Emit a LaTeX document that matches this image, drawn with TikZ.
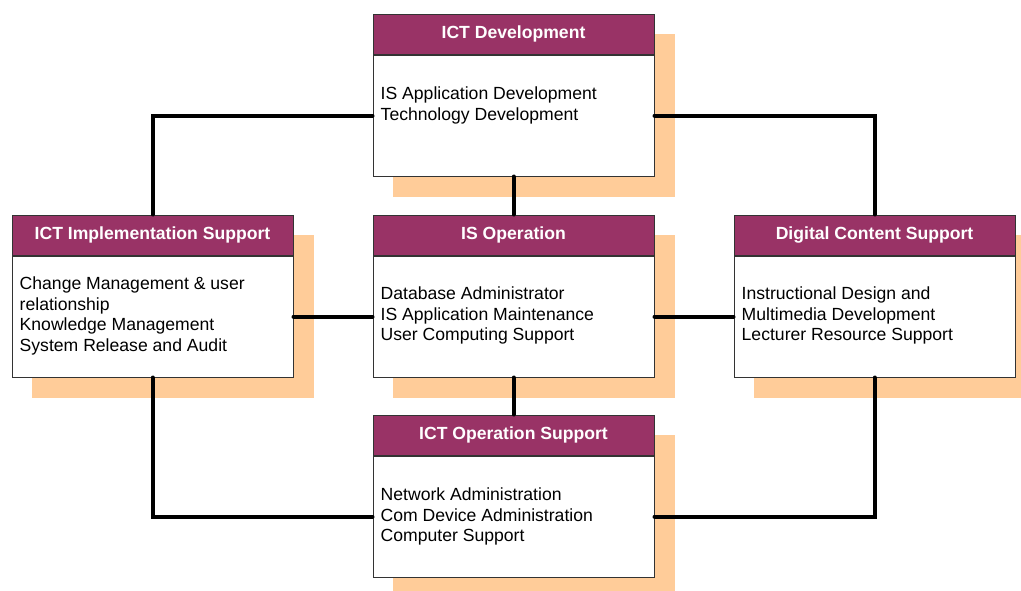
\documentclass[tikz,border=0pt]{standalone}
\usepackage{fontspec}
\setmainfont{Liberation Sans}
\usetikzlibrary{backgrounds}
\definecolor{hdr}{HTML}{993366}
\definecolor{shd}{HTML}{FFCC99}
\definecolor{bord}{HTML}{333333}
\begin{document}
\begin{tikzpicture}[x=1pt,y=-1pt,
 hdrbox/.style={draw=bord, line width=1pt, fill=hdr, minimum width=281pt, minimum height=40pt, inner sep=0pt, text=white, font=\bfseries\fontsize{17.6}{20.7}\selectfont, anchor=north west},
 bodybox/.style={draw=bord, line width=1pt, fill=white, minimum width=281pt, minimum height=121pt, inner sep=0pt, anchor=north},
 bodytext/.style={font=\fontsize{17.6}{20.7}\selectfont, align=left, anchor=base west, inner sep=0pt, text=black},
 conn/.style={line width=4pt, line cap=round},
 ]
\useasboundingbox (0,0) rectangle (1021,590);
\node[hdrbox] (hdev) at (372.5,13.5) {ICT Development};
\node[bodybox] (bdev) at (hdev.south) {};
\node[hdrbox] (himp) at (11.5,214.5) {ICT Implementation Support};
\node[bodybox] (bimp) at (himp.south) {};
\node[hdrbox] (hiso) at (372.5,214.5) {IS Operation};
\node[bodybox] (biso) at (hiso.south) {};
\node[hdrbox] (hdig) at (733.5,214.5) {Digital Content Support};
\node[bodybox] (bdig) at (hdig.south) {};
\node[hdrbox] (hops) at (372.5,414.5) {ICT Operation Support};
\node[bodybox] (bops) at (hops.south) {};

% base anchor = baseline of the last line
\node[bodytext] (tdev) at ([shift={(8,65.7)}]hdev.south west) {IS Application Development\\Technology Development};
\node[bodytext] (timp) at ([shift={(8,96.1)}]himp.south west) {Change Management \& user\\relationship\\Knowledge Management\\System Release and Audit};
\node[bodytext] (tiso) at ([shift={(8,85.4)}]hiso.south west) {Database Administrator\\IS Application Maintenance\\User Computing Support};
\node[bodytext] (tdig) at ([shift={(8,85.4)}]hdig.south west) {Instructional Design and\\Multimedia Development\\Lecturer Resource Support};
\node[bodytext] (tops) at ([shift={(8,86.4)}]hops.south west) {Network Administration\\Com Device Administration\\Computer Support};

\begin{pgfonlayer}{background}
\foreach \n in {dev,imp,iso,dig,ops}
  \fill[shd] ([shift={(20,20)}]h\n.north west) rectangle ([shift={(20,20)}]b\n.south east);
\end{pgfonlayer}

\draw[conn] (bdev.west) -| (himp.north);
\draw[conn] (bdev.east) -| (hdig.north);
\draw[conn] (bdev.south) -- (hiso.north);
\draw[conn] (bimp.east) -- (biso.west);
\draw[conn] (biso.east) -- (bdig.west);
\draw[conn] (biso.south) -- (hops.north);
\draw[conn] (bimp.south) |- (bops.west);
\draw[conn] (bdig.south) |- (bops.east);
\end{tikzpicture}
\end{document}
